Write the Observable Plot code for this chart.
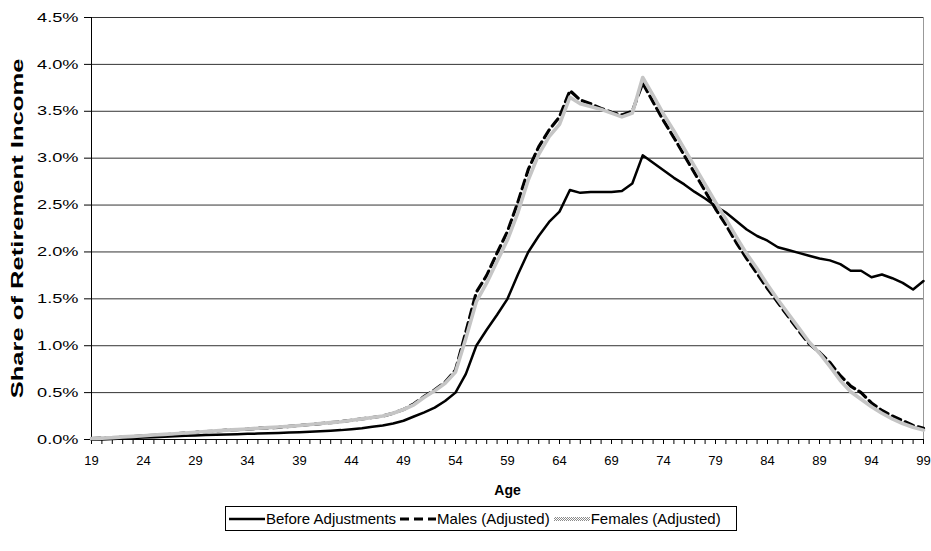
<!DOCTYPE html>
<html>
<head>
<meta charset="utf-8">
<script src="https://cdn.jsdelivr.net/npm/d3@7"></script>
<script src="https://cdn.jsdelivr.net/npm/@observablehq/plot@0.6"></script>
<style>
  body { margin: 0; background: #fff; font-family: "Liberation Sans", Arial, sans-serif; }
  #wrap { position: relative; width: 931px; height: 551px; }
  #legend { position: absolute; left: 225px; top: 506px; width: 510px; height: 23px;
            border: 1px solid #000; display: flex; align-items: center; font-size: 15px; }
  #legend .item { display: flex; align-items: center; margin-right: 3px; }
</style>
</head>
<body>
<svg width="0" height="0" style="position:absolute">
  <defs>
    <pattern id="checker" width="2" height="2" patternUnits="userSpaceOnUse">
      <rect width="2" height="2" fill="#8a8a8a"></rect>
      <rect x="0" y="0" width="1" height="1" fill="#ffffff"></rect>
      <rect x="1" y="1" width="1" height="1" fill="#ffffff"></rect>
    </pattern>
  </defs>
</svg>
<div id="wrap"><div id="chart"></div><div id="legend"></div></div>
<script>
const ages = [19,20,21,22,23,24,25,26,27,28,29,30,31,32,33,34,35,36,37,38,39,40,41,42,43,44,45,46,47,48,49,50,51,52,53,54,55,56,57,58,59,60,61,62,63,64,65,66,67,68,69,70,71,72,73,74,75,76,77,78,79,80,81,82,83,84,85,86,87,88,89,90,91,92,93,94,95,96,97,98,99];

const beforeAdj = [0.00,0.00,0.005,0.01,0.015,0.02,0.025,0.03,0.035,0.04,0.043,0.047,0.05,0.053,0.056,0.06,0.063,0.066,0.07,0.074,0.078,0.083,0.088,0.094,0.10,0.11,0.12,0.135,0.15,0.17,0.20,0.245,0.29,0.34,0.41,0.50,0.70,1.00,1.17,1.33,1.50,1.76,2.00,2.17,2.32,2.43,2.66,2.63,2.64,2.64,2.64,2.65,2.73,3.03,2.95,2.87,2.79,2.72,2.64,2.57,2.49,2.42,2.33,2.24,2.17,2.12,2.05,2.02,1.99,1.96,1.93,1.91,1.87,1.80,1.80,1.73,1.76,1.72,1.67,1.60,1.69];

const males = [0.01,0.015,0.02,0.025,0.03,0.04,0.045,0.05,0.06,0.07,0.075,0.085,0.09,0.10,0.105,0.11,0.12,0.125,0.13,0.14,0.15,0.16,0.17,0.18,0.19,0.205,0.22,0.235,0.25,0.28,0.32,0.38,0.46,0.53,0.61,0.74,1.15,1.57,1.75,1.99,2.22,2.53,2.88,3.12,3.30,3.44,3.72,3.62,3.58,3.53,3.49,3.46,3.50,3.80,3.60,3.40,3.22,3.03,2.84,2.65,2.46,2.29,2.10,1.93,1.77,1.61,1.46,1.31,1.16,1.02,0.93,0.82,0.68,0.57,0.50,0.39,0.31,0.25,0.20,0.15,0.12];

const females = [0.01,0.015,0.02,0.028,0.033,0.04,0.048,0.055,0.062,0.07,0.078,0.085,0.092,0.10,0.105,0.112,0.12,0.127,0.133,0.14,0.15,0.16,0.17,0.18,0.19,0.205,0.22,0.235,0.25,0.28,0.32,0.37,0.45,0.52,0.60,0.72,1.08,1.47,1.67,1.90,2.13,2.42,2.77,3.04,3.23,3.36,3.65,3.58,3.55,3.52,3.48,3.44,3.48,3.86,3.67,3.47,3.29,3.10,2.91,2.72,2.53,2.35,2.16,1.98,1.82,1.65,1.49,1.34,1.19,1.04,0.92,0.78,0.63,0.51,0.43,0.35,0.28,0.22,0.17,0.13,0.10];

const yTicks = [0,0.5,1.0,1.5,2.0,2.5,3.0,3.5,4.0,4.5];
const xLabelAges = [19,24,29,34,39,44,49,54,59,64,69,74,79,84,89,94,99];
const seriesNames = ["Before Adjustments","Males (Adjusted)","Females (Adjusted)"];

const rows = s => ages.map((a, i) => ({age: a, v: s[i]}));
const dBefore = rows(beforeAdj), dMales = rows(males), dFemales = rows(females);

const chart = Plot.plot({
  width: 931,
  height: 500,
  marginLeft: 91,
  marginRight: 8,
  marginTop: 17,
  marginBottom: 61,
  x: {domain: [19, 99]},
  y: {domain: [0, 4.5]},
  style: {fontFamily: "'Liberation Sans', Arial, sans-serif", fontSize: "13px", color: "#000", background: "#fff"},
  marks: [
    Plot.ruleY(yTicks.filter(d => d > 0), {stroke: "#333", strokeWidth: 1, strokeOpacity: 1}),
    Plot.ruleX([99], {stroke: "#999", strokeWidth: 1}),
    Plot.axisY({ticks: yTicks, tickSize: 7, tickPadding: 6, tickFormat: d => d.toFixed(1) + "%", label: null, fontSize: 13, stroke: "#000"}),
    Plot.axisX({ticks: ages, tickSize: 5, tickPadding: 11, tickFormat: d => xLabelAges.includes(d) ? String(d) : "", label: null, fontSize: 13}),
    Plot.ruleX([19], {stroke: "#000", strokeWidth: 1}),
    Plot.ruleY([0], {stroke: "#000", strokeWidth: 1}),
    Plot.line(dBefore, {x: "age", y: "v", stroke: "#000", strokeWidth: 2.5}),
    Plot.line(dMales, {x: "age", y: "v", stroke: "#000", strokeWidth: 3.2, strokeDasharray: "9,5"}),
    Plot.line(dFemales, {x: "age", y: "v", stroke: "url(#checker)", strokeWidth: 3.6}),
    Plot.text(["Share of Retirement Income"], {frameAnchor: "left", dx: -74, rotate: -90, textAnchor: "middle", fontWeight: "bold", fontSize: 16, fill: "#000", className: "ytitle"}),
    Plot.text(["Age"], {frameAnchor: "bottom", dy: 55, fontWeight: "bold", fontSize: 14, fill: "#000"})
  ]
});
document.getElementById("chart").appendChild(chart);

// Stretch the y-axis texts along their reading direction as in the reference
d3.select(chart).selectAll('g[aria-label="y-axis tick label"] text').each(function() {
  const t = this.getAttribute("transform") || "";
  this.setAttribute("transform", t + " scale(1.4,1)");
});
d3.select(chart).selectAll('g.ytitle text, .ytitle text').each(function() {
  const t = this.getAttribute("transform") || "";
  this.setAttribute("transform", t + " scale(1.6,1)");
});

// Legend
const legend = d3.select("#legend");
const styles = [
  {stroke: "#000", width: 2.5, dash: null},
  {stroke: "#000", width: 3.2, dash: "9,5"},
  {stroke: "url(#checker)", width: 4, dash: null}
];
seriesNames.forEach((name, i) => {
  const item = legend.append("div").attr("class", "item");
  const svg = item.append("svg").attr("width", 36).attr("height", 12).style("margin-left", i === 0 ? "3px" : "1px").style("margin-right", "1px");
  const s = styles[i];
  svg.append("line").attr("x1", 0).attr("x2", 36).attr("y1", 6).attr("y2", 6)
    .attr("stroke", s.stroke).attr("stroke-width", s.width)
    .attr("stroke-dasharray", s.dash);
  item.append("span").text(name);
});
</script>
</body>
</html>
